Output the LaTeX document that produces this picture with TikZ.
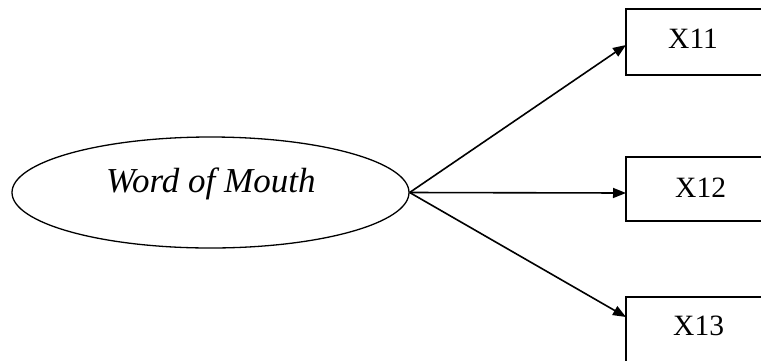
\documentclass[tikz,border=0pt]{standalone}
\usepackage{fontspec}
\setmainfont{Liberation Serif}
\usetikzlibrary{shapes.geometric,arrows.meta}
\tikzset{
  lat/.style={draw, line width=1.3pt, ellipse, minimum width=397pt, minimum height=111pt, inner sep=0pt},
  ind/.style={draw, line width=1.8pt, rectangle, minimum width=140pt, inner sep=0pt},
  lbl/.style={font=\fontsize{29.5pt}{32pt}\selectfont, inner sep=0pt, anchor=base west},
  arr/.style={line width=1.6pt, -{Triangle[length=13pt,width=10pt]}}
}
\begin{document}
\begin{tikzpicture}[x=1pt,y=-1pt]
\useasboundingbox (0,0) rectangle (761,360);
\clip (0,0) rectangle (761,360);
\node[lat] (ell) at (210.5,192.5) {};
\node[lbl, font=\fontsize{35pt}{38pt}\selectfont\itshape] (wom) at (106,192) {Word of Mouth};
\node[ind, minimum height=66pt] (b11) at (696,42) {};
\node[ind, minimum height=64pt] (b12) at (696,189) {};
\node[ind, minimum height=66pt] (b13) at (696,330) {};
\node[lbl] (t11) at (668,48) {X11};
\node[lbl] (t12) at (675,197) {X12};
\node[lbl] (t13) at (673,335) {X13};
\coordinate (e11) at (626,45);
\coordinate (e12) at (626,193);
\coordinate (e13) at (626,317);
\draw[arr] (ell.east) -- (e11);
\draw[arr] (ell.east) -- (e12);
\draw[arr] (ell.east) -- (e13);
\end{tikzpicture}
\end{document}
